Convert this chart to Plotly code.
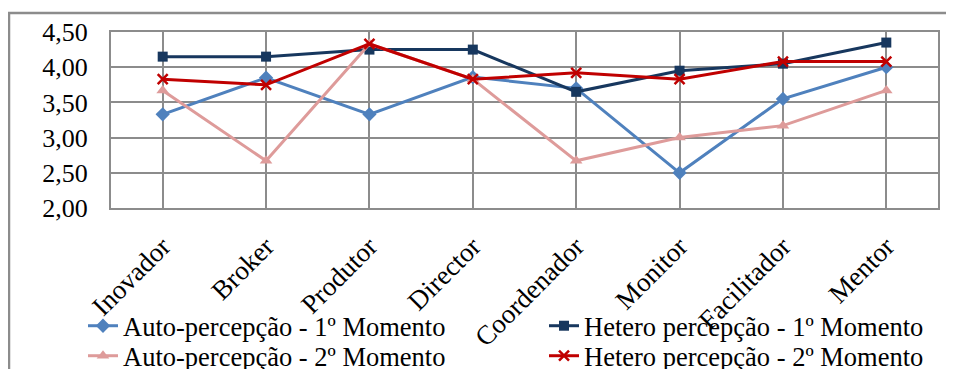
import plotly.graph_objects as go

categories = ["Inovador", "Broker", "Produtor", "Director", "Coordenador", "Monitor", "Facilitador", "Mentor"]
auto_1 = [3.33, 3.85, 3.33, 3.86, 3.70, 2.50, 3.55, 4.00]
hetero_1 = [4.15, 4.15, 4.25, 4.25, 3.65, 3.95, 4.05, 4.35]
auto_2 = [3.67, 2.67, 4.33, 3.83, 2.67, 3.00, 3.17, 3.67]
hetero_2 = [3.83, 3.75, 4.33, 3.83, 3.92, 3.83, 4.08, 4.08]
y_ticks = [2.0, 2.5, 3.0, 3.5, 4.0, 4.5]
y_tick_labels = ["2,00", "2,50", "3,00", "3,50", "4,00", "4,50"]

FONT = "Liberation Serif, Times New Roman, serif"
fig = go.Figure()
fig.add_trace(go.Scatter(x=categories, y=auto_1, name="Auto-percepção - 1º Momento",
                         mode="lines+markers", line=dict(color="#4F81BD", width=3),
                         marker=dict(symbol="diamond", size=11, color="#4F81BD"),
                         legend="legend", showlegend=True))
fig.add_trace(go.Scatter(x=categories, y=hetero_1, name="Hetero percepção - 1º Momento",
                         mode="lines+markers", line=dict(color="#17375E", width=3),
                         marker=dict(symbol="square", size=10, color="#17375E"),
                         legend="legend2", showlegend=True))
fig.add_trace(go.Scatter(x=categories, y=auto_2, name="Auto-percepção - 2º Momento",
                         mode="lines+markers", line=dict(color="#DE9B9A", width=3),
                         marker=dict(symbol="triangle-up", size=11, color="#DE9B9A"),
                         legend="legend3", showlegend=True))
fig.add_trace(go.Scatter(x=categories, y=hetero_2, name="Hetero percepção - 2º Momento",
                         mode="lines+markers", line=dict(color="#C00000", width=3),
                         marker=dict(symbol="x-thin", size=10, color="#C00000",
                                     line=dict(color="#C00000", width=2.5)),
                         legend="legend4", showlegend=True))

# the page body adds an 8px offset; figure coords = screen coords - 8
OFF = 8
W, H = 946, 361
L, T = 111 - OFF, 32 - OFF
R = W - (938 - OFF)
B = H - (208 - OFF)
pw, ph = W - L - R, H - T - B

def px(xs):
    return (xs - OFF - L) / pw

def py(ys):
    return (H - B - (ys - OFF)) / ph

LEG_FONT = dict(family=FONT, size=26.5)

def leg(xs, ys):
    return dict(x=px(xs), y=py(ys), xanchor="left", yanchor="top", orientation="v",
                font=LEG_FONT, bgcolor="rgba(0,0,0,0)", visible=True)

fig.update_layout(
    width=W, height=H,
    margin=dict(l=L, r=R, t=T, b=B, autoexpand=False),
    paper_bgcolor="white", plot_bgcolor="white",
    font=dict(family=FONT, size=26, color="black"),
    showlegend=True,
    legend=leg(83, 302),
    legend2=leg(544, 302),
    legend3=leg(83, 332),
    legend4=leg(544, 332),
    shapes=[dict(type="rect", xref="paper", yref="paper", x0=px(9), x1=px(1000), y0=py(420), y1=py(13),
                 line=dict(color="#8C8C8C", width=2.5), layer="below")],
)
fig.update_xaxes(type="category", showgrid=True, gridcolor="#8C8C8C", gridwidth=2,
                 tickangle=-45, showline=True, linecolor="#8C8C8C", linewidth=2, mirror=True,
                 tickfont=dict(family=FONT, size=27), ticks="outside", ticklen=10, tickcolor="white",
                 range=[-0.5, 7.5])
fig.update_yaxes(range=[2.0, 4.5], tickvals=y_ticks, ticktext=y_tick_labels,
                 showgrid=True, gridcolor="#8C8C8C", gridwidth=2, showline=True,
                 linecolor="#8C8C8C", linewidth=2, mirror=True, zeroline=False,
                 tickfont=dict(family=FONT, size=26), ticks="outside", ticklen=16, tickcolor="white")

fig.write_html("out.html")
